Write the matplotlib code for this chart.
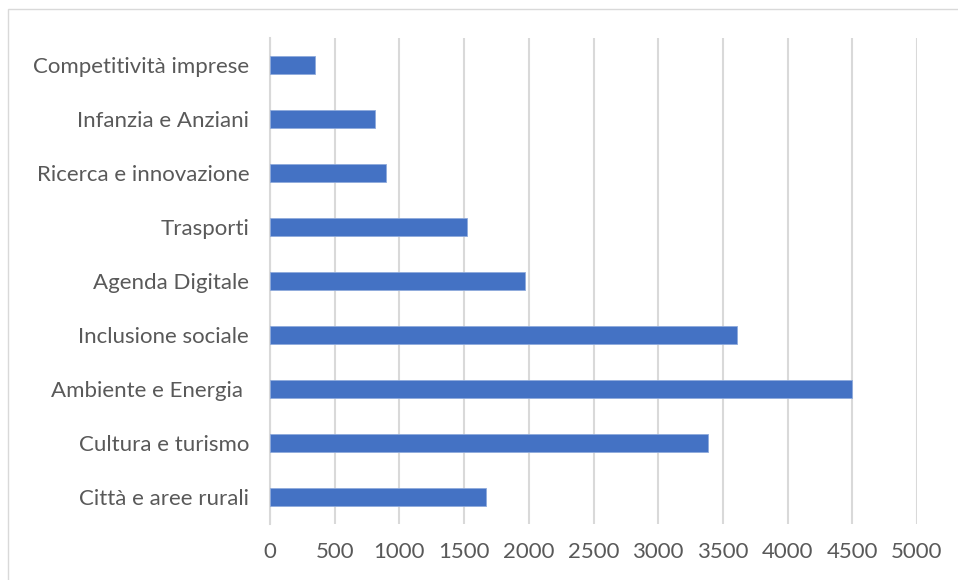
import matplotlib
matplotlib.use("Agg")
import matplotlib.pyplot as plt
from matplotlib.patches import Rectangle

categories = ["Città e aree rurali", "Cultura e turismo", "Ambiente e Energia ",
              "Inclusione sociale", "Agenda Digitale", "Trasporti",
              "Ricerca e innovazione", "Infanzia e Anziani", "Competitività imprese"]
values = [1670, 3385, 4500, 3610, 1970, 1520, 900, 810, 350]
xticks = [0, 500, 1000, 1500, 2000, 2500, 3000, 3500, 4000, 4500, 5000]

plt.rcParams['font.family'] = ['Lato', 'DejaVu Sans']

fig = plt.figure(figsize=(9.58, 5.8), dpi=100)
ax = fig.add_axes([270/958, 1-524/580, (917-270)/958, (524-38)/580])

ypos = list(range(len(categories)))
ax.barh(ypos, values, height=0.35, color='#4472C4', edgecolor='#8FAADC', linewidth=0.6, zorder=3)
ax.set_ylim(-0.5, len(categories)-0.5)
ax.set_xlim(0, 5000)
ax.set_xticks(xticks)
ax.set_xticklabels([str(t) for t in xticks])
ax.set_yticks(ypos)
ax.set_yticklabels(categories)
ax.grid(axis='x', color='#D9D9D9', linewidth=1.5, zorder=0)
ax.tick_params(axis='both', length=0, labelsize=16, colors='#595959')
ax.tick_params(axis='x', pad=13)
ax.tick_params(axis='y', pad=15)
for s in ['top', 'right', 'bottom']:
    ax.spines[s].set_visible(False)
ax.spines['left'].set_color('#D9D9D9')
ax.spines['left'].set_linewidth(1.5)

fig.patches.append(Rectangle((8/958, -0.1), 1.2, 1 - 9/580 + 0.1, transform=fig.transFigure,
                             fill=False, edgecolor='#D9D9D9', linewidth=1.0))

fig.savefig("out.png", dpi=100)
